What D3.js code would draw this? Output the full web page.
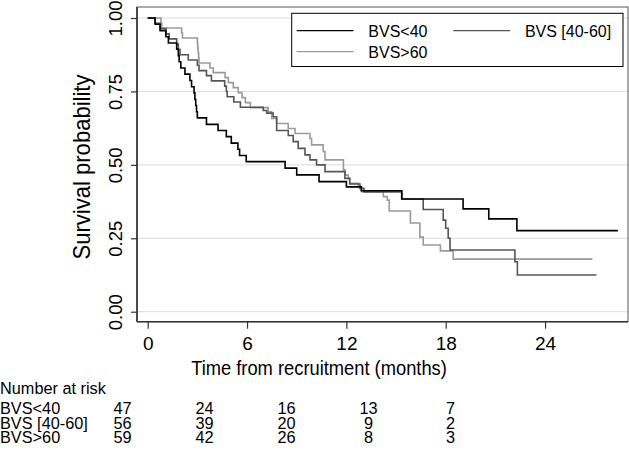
<!DOCTYPE html>
<html>
<head>
<meta charset="utf-8">
<script src="https://cdn.jsdelivr.net/npm/d3@7"></script>
<style>
  html, body { margin: 0; padding: 0; background: #fff; }
  svg { display: block; font-family: "Liberation Sans", Arial, Helvetica, sans-serif; }
</style>
</head>
<body>
<svg id="chart" width="629" height="450"></svg>
<script>
// ---- Data ----
const seriesNames = ["BVS<40", "BVS [40-60]", "BVS>60"];
const seriesColors = ["#000000", "#555555", "#9a9a9a"];

const timesLow = [0, 0.45, 0.75, 1.1, 1.25, 1.75, 1.85, 1.9, 2.0, 2.25, 2.55, 2.65, 2.8, 2.85, 2.9, 2.95, 3.0, 3.55, 4.25, 4.75, 5.05, 5.45, 5.55, 5.95, 8.3, 9.0, 10.35, 12.0, 12.9, 15.35, 19.05, 20.6, 22.3, 28.4];
const survLow  = [1, .979, .957, .936, .915, .894, .872, .851, .830, .809, .787, .766, .745, .723, .702, .681, .660, .638, .617, .596, .574, .553, .532, .511, .489, .466, .443, .425, .412, .384, .350, .316, .276, .276];

const timesMid = [0, 0.45, 0.75, 1.1, 1.3, 1.75, 1.85, 1.95, 2.45, 3.0, 3.1, 3.55, 3.85, 4.65, 4.75, 4.8, 5.2, 5.6, 6.98, 7.19, 7.58, 7.79, 8.49, 8.79, 9.09, 9.5, 9.8, 10.2, 10.71, 11.91, 12.2, 12.82, 13.06, 15.34, 16.64, 17.85, 18.0, 18.15, 18.26, 22.18, 22.33, 27.1];
const survMid  = [1, .982, .964, .946, .929, .911, .893, .875, .857, .839, .821, .804, .786, .768, .750, .732, .714, .696, .685, .676, .664, .617, .600, .579, .556, .534, .517, .500, .477, .454, .435, .420, .408, .384, .348, .312, .284, .250, .210, .170, .125, .125];

const timesHigh = [0, 0.8, 0.85, 2.05, 2.1, 3.0, 3.02, 3.05, 3.08, 3.1, 3.76, 3.96, 4.67, 4.87, 5.17, 5.47, 5.7, 5.9, 6.2, 7.28, 7.49, 7.79, 8.49, 8.9, 9.8, 9.9, 10.6, 10.71, 11.82, 11.92, 12.11, 12.2, 12.72, 12.92, 14.23, 14.47, 14.59, 15.87, 16.44, 16.64, 17.68, 18.45, 26.86];
const survHigh  = [1, .983, .966, .949, .932, .915, .898, .881, .864, .847, .830, .814, .797, .780, .763, .746, .729, .712, .695, .681, .658, .641, .624, .607, .590, .568, .545, .517, .483, .465, .454, .437, .426, .409, .392, .380, .343, .302, .254, .227, .207, .179, .179];

const xTicks = [0, 6, 12, 18, 24];
const yTicks = [0, 0.25, 0.5, 0.75, 1];
const yTickLabels = ["0.00", "0.25", "0.50", "0.75", "1.00"];

const riskTimes = [0, 6, 12, 18, 24];
const riskLow  = [47, 24, 16, 13, 7];
const riskMid  = [56, 39, 20, 9, 2];
const riskHigh = [59, 42, 26, 8, 3];

// ---- Layout ----
const svg = d3.select("#chart");
const W = 629, H = 450;
const plot = { left: 137, right: 628, top: 7, bottom: 321.7 };

const x = d3.scaleLinear().domain([-0.646, 29.01]).range([plot.left, plot.right]);
const y = d3.scaleLinear().domain([-0.034, 1.0375]).range([plot.bottom, plot.top]);

svg.append("rect").attr("width", W).attr("height", H).attr("fill", "#fff");

// gridlines
svg.append("g").selectAll("line").data(yTicks).join("line")
  .attr("x1", plot.left).attr("x2", plot.right)
  .attr("y1", d => y(d)).attr("y2", d => y(d))
  .attr("stroke", "#dcdcdc").attr("stroke-width", 1);

// frame (top/right)
svg.append("rect")
  .attr("x", plot.left).attr("y", plot.top)
  .attr("width", plot.right - plot.left).attr("height", plot.bottom - plot.top)
  .attr("fill", "none").attr("stroke", "#555").attr("stroke-width", 1);

// axes
const xAxis = d3.axisBottom(x).tickValues(xTicks).tickSize(7).tickPadding(4).tickSizeOuter(0);
const gx = svg.append("g").attr("transform", `translate(0,${plot.bottom})`).call(xAxis);
gx.select(".domain").attr("stroke", "#333").attr("stroke-width", 1.6)
  .attr("d", `M${plot.left},0H${plot.right}`);
gx.selectAll(".tick line").attr("stroke", "#333").attr("stroke-width", 1.2);
gx.selectAll(".tick text").attr("font-size", 19).attr("fill", "#000")
  .attr("font-family", '"Liberation Sans", Arial, sans-serif').attr("dy", "0.9em");

const yAxis = d3.axisLeft(y).tickValues(yTicks).tickSize(6).tickFormat((d, i) => yTickLabels[i]).tickSizeOuter(0);
const gy = svg.append("g").attr("transform", `translate(${plot.left},0)`).call(yAxis);
gy.select(".domain").attr("stroke", "#333").attr("stroke-width", 1.6)
  .attr("d", `M0,${plot.top}V${plot.bottom}`);
gy.selectAll(".tick line").attr("stroke", "#333").attr("stroke-width", 1.2);
gy.selectAll(".tick text")
  .attr("font-size", 18.5).attr("fill", "#000")
  .attr("font-family", '"Liberation Sans", Arial, sans-serif')
  .attr("x", null).attr("dy", null)
  .attr("text-anchor", "middle")
  .attr("transform", "translate(-15,0) rotate(-90)");

// axis titles
svg.append("text")
  .attr("transform", "translate(319,374.5) scale(0.94,1)")
  .attr("text-anchor", "middle").attr("font-size", 19.5)
  .text("Time from recruitment (months)");
svg.append("text")
  .attr("transform", "translate(89.5,167) rotate(-90) scale(0.9,1)")
  .attr("text-anchor", "middle").attr("font-size", 24.5)
  .text("Survival probability");

// curves
const seriesData = [
  timesLow.map((t, i) => [t, survLow[i]]),
  timesMid.map((t, i) => [t, survMid[i]]),
  timesHigh.map((t, i) => [t, survHigh[i]])
];
const line = d3.line().x(d => x(d[0])).y(d => y(d[1])).curve(d3.curveStepAfter);
const drawOrder = [2, 1, 0];
svg.append("g").selectAll("path").data(drawOrder).join("path")
  .attr("d", i => line(seriesData[i]))
  .attr("fill", "none")
  .attr("stroke", i => seriesColors[i])
  .attr("stroke-width", 1.6);

// legend
const lg = svg.append("g");
lg.append("rect").attr("x", 291.7).attr("y", 13.3).attr("width", 331.3).attr("height", 53.2)
  .attr("fill", "#fff").attr("stroke", "#000").attr("stroke-width", 1);
const legendPos = [[296.7, 30.7], [453.3, 30.7], [296.7, 51.7]];
seriesNames.forEach((name, i) => {
  const [lx, ly] = legendPos[i];
  lg.append("line").attr("x1", lx).attr("x2", lx + 56.7).attr("y1", ly).attr("y2", ly)
    .attr("stroke", seriesColors[i]).attr("stroke-width", 1.3);
  lg.append("text").attr("x", lx + 71.6).attr("y", ly + 5.8)
    .attr("font-size", 16).text(name);
});

// number at risk table
const tx = d3.scaleLinear().domain([0, 24]).range([122.5, 450.5]);
const tableFont = 16.3;
svg.append("text").attr("x", 0).attr("y", 394).attr("font-size", tableFont).text("Number at risk");
const riskRows = [riskLow, riskMid, riskHigh];
const rowY = [414, 428.5, 443];
riskRows.forEach((row, r) => {
  svg.append("text").attr("x", 0).attr("y", rowY[r]).attr("font-size", tableFont).text(seriesNames[r]);
  svg.append("g").selectAll("text").data(row).join("text")
    .attr("x", (d, i) => tx(riskTimes[i])).attr("y", rowY[r])
    .attr("text-anchor", "middle").attr("font-size", tableFont)
    .text(d => d);
});
</script>
</body>
</html>
